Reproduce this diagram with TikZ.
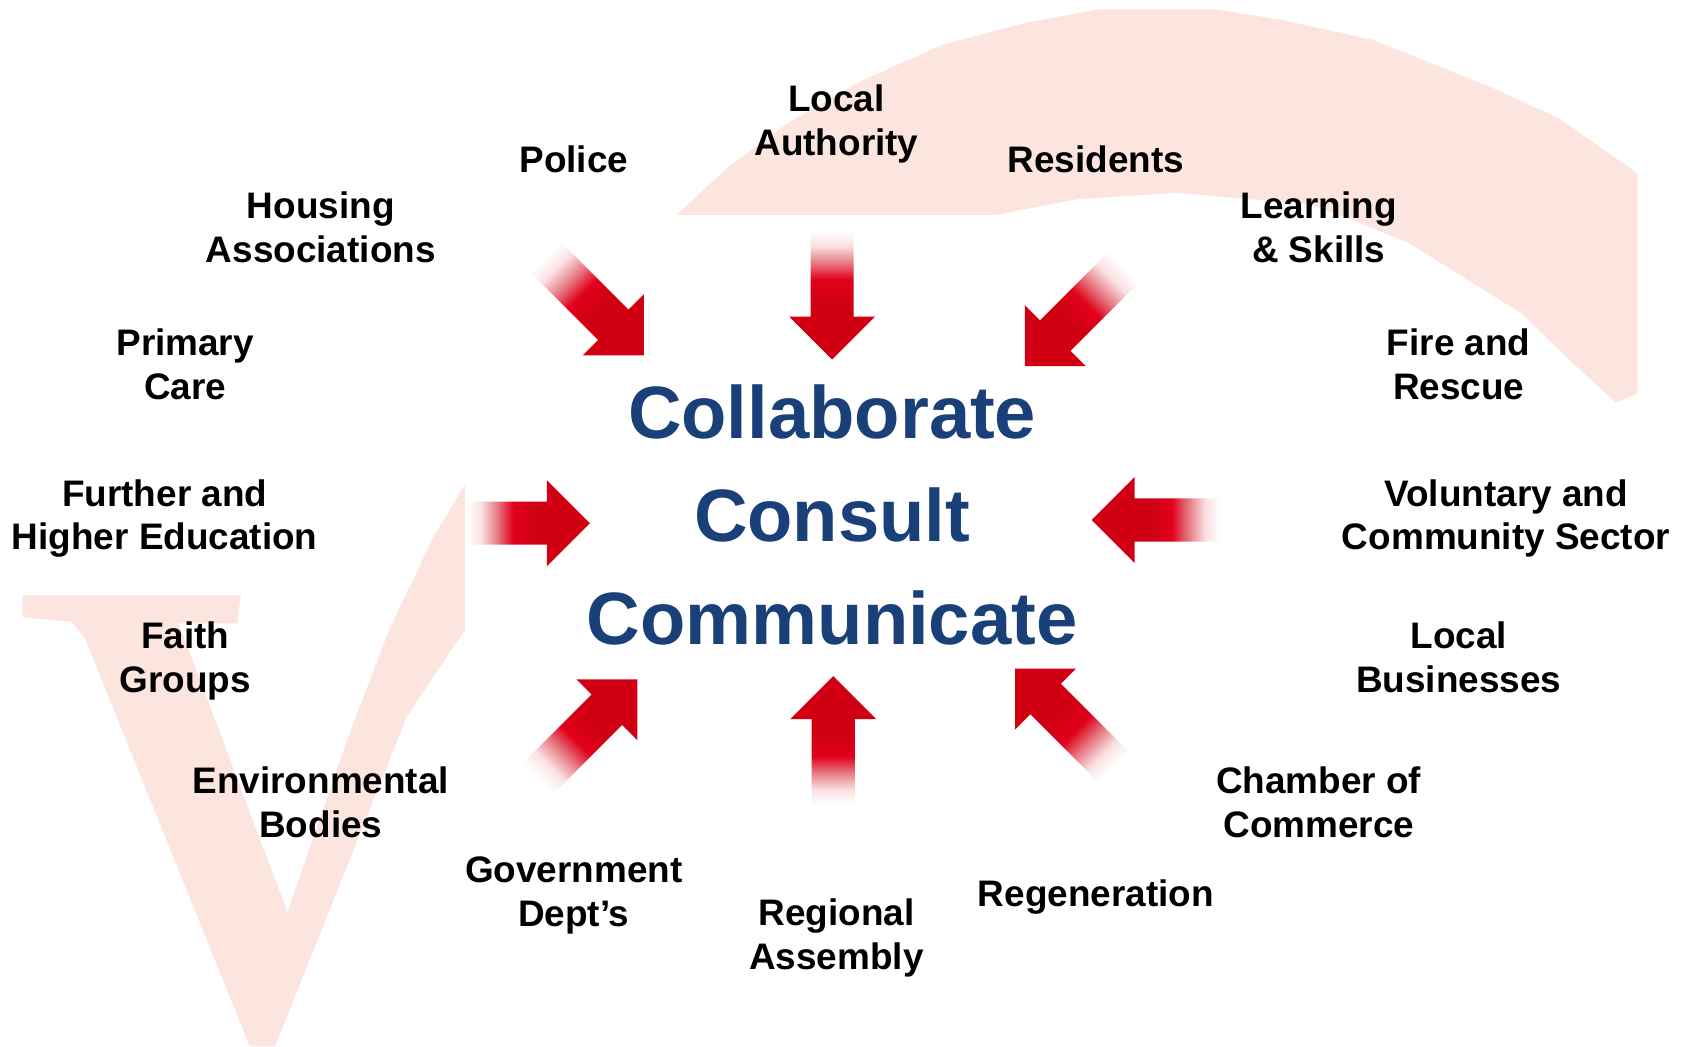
\documentclass[tikz,border=0pt]{standalone}
\usepackage{fontspec}
\setmainfont{Liberation Sans}
\usepackage{tikz}
\definecolor{vpink}{RGB}{253,229,223}
\definecolor{arrowred}{RGB}{208,0,18}
\definecolor{brightred}{RGB}{226,0,28}
\definecolor{ccblue}{RGB}{26,64,122}
\pgfdeclarehorizontalshading{arrowfade}{100bp}{color(0bp)=(white); color(25bp)=(white); color(31bp)=(arrowred!12!white); color(38bp)=(arrowred!55!white); color(44bp)=(brightred); color(52bp)=(arrowred); color(100bp)=(arrowred)}
\tikzstyle{stakeholder}=[font=\bfseries\fontsize{9.75}{11.6}\selectfont, align=center, inner sep=0pt, text depth=0pt]
\tikzstyle{motto}=[font=\bfseries\fontsize{19.6}{23}\selectfont, text=ccblue, inner sep=0pt, anchor=base]
\tikzstyle{backdrop}=[fill=vpink, draw=none]
\tikzstyle{panel}=[fill=white, draw=none]
\tikzstyle{arrow fade}=[shading=arrowfade, draw=none]

\begin{document}
\begin{tikzpicture}[x=0.01cm, y=-0.01cm]
	\useasboundingbox (0,0) rectangle (1568,972);

	% Pink swoosh and V behind everything
	\fill[backdrop] (617,210) -- (628.6,199.7) -- (676.6,154.8) -- (733.9,113) -- (802,74.3) -- (874.7,41.8)
		-- (953.7,21) -- (1020.3,8.7) -- (1129.6,8.7) -- (1191.5,18.6) -- (1275,37) -- (1383.5,80.5)
		-- (1448.5,110) -- (1521,161) -- (1521,365.4) -- (1501,374) -- (1454.7,331.3) -- (1413,291)
		-- (1309,226) -- (1256.5,204.4) -- (1219,190.4) -- (1092.4,179) -- (1000.2,185.2) -- (924.3,199.7)
		-- (870,210) -- cycle;
	\fill[backdrop] (21,552.7) -- (223.6,552.7) -- (220.5,579) -- (166,579) -- (267,847) -- (328,672)
		-- (362,584) -- (402,500) -- (432,450) -- (432,585) -- (377.8,665.8) -- (255.5,972) -- (232,972)
		-- (79,593) -- (66.6,577.5) -- (21,573.5) -- cycle;

	% White panel for the centre
	\fill[panel] (432,200) rectangle (1143,750);

	% Arrows pointing in
	\foreach \x/\y/\ang/\len in {
		773/334/-90/80, 598/330/-45/90, 952/340/-135/90,
		548/486/0/75, 1014/483/180/80,
		592/631/45/90, 774/628/90/80, 943/621/135/90}
	{
		\begin{scope}[transform canvas={shift={(\x,\y)}, rotate=\ang}]
			\shade[arrow fade] (0,0) -- (-40,40) -- (-40,20) -- (-40-\len,20) -- (-40-\len,-20)
				-- (-40,-20) -- (-40,-40) -- cycle;
		\end{scope}
	}

	% Centre words
	\node[motto] (collaborate) at (773,407) {Collaborate};
	\node[motto] (consult) at (773,503) {Consult};
	\node[motto] (communicate) at (773,599) {Communicate};

	% Partners round the edge
	\foreach \pos/\label/\name in {
		{(777,112)/localauth/{Local\\Authority}},
		{(533,148)/police/{Police}},
		{(1018,148)/residents/{Residents}},
		{(298,211)/housing/{Housing\\Associations}},
		{(1225,211)/learning/{Learning\\\& Skills}},
		{(172,338)/primary/{Primary\\Care}},
		{(1355,338)/fire/{Fire and\\Rescue}},
		{(153,478)/further/{Further and\\Higher Education}},
		{(1399,478)/voluntary/{Voluntary and\\Community Sector}},
		{(172,610)/faith/{Faith\\Groups}},
		{(1355,610)/business/{Local\\Businesses}},
		{(298,745)/environment/{Environmental\\Bodies}},
		{(1225,745)/chamber/{Chamber of\\Commerce}},
		{(533,828)/government/{Government\\Dept’s}},
		{(1018,830)/regeneration/{Regeneration}},
		{(777,868)/regional/{Regional\\Assembly}}}
	\node[stakeholder] (\label) at \pos {\name};
\end{tikzpicture}
\end{document}
